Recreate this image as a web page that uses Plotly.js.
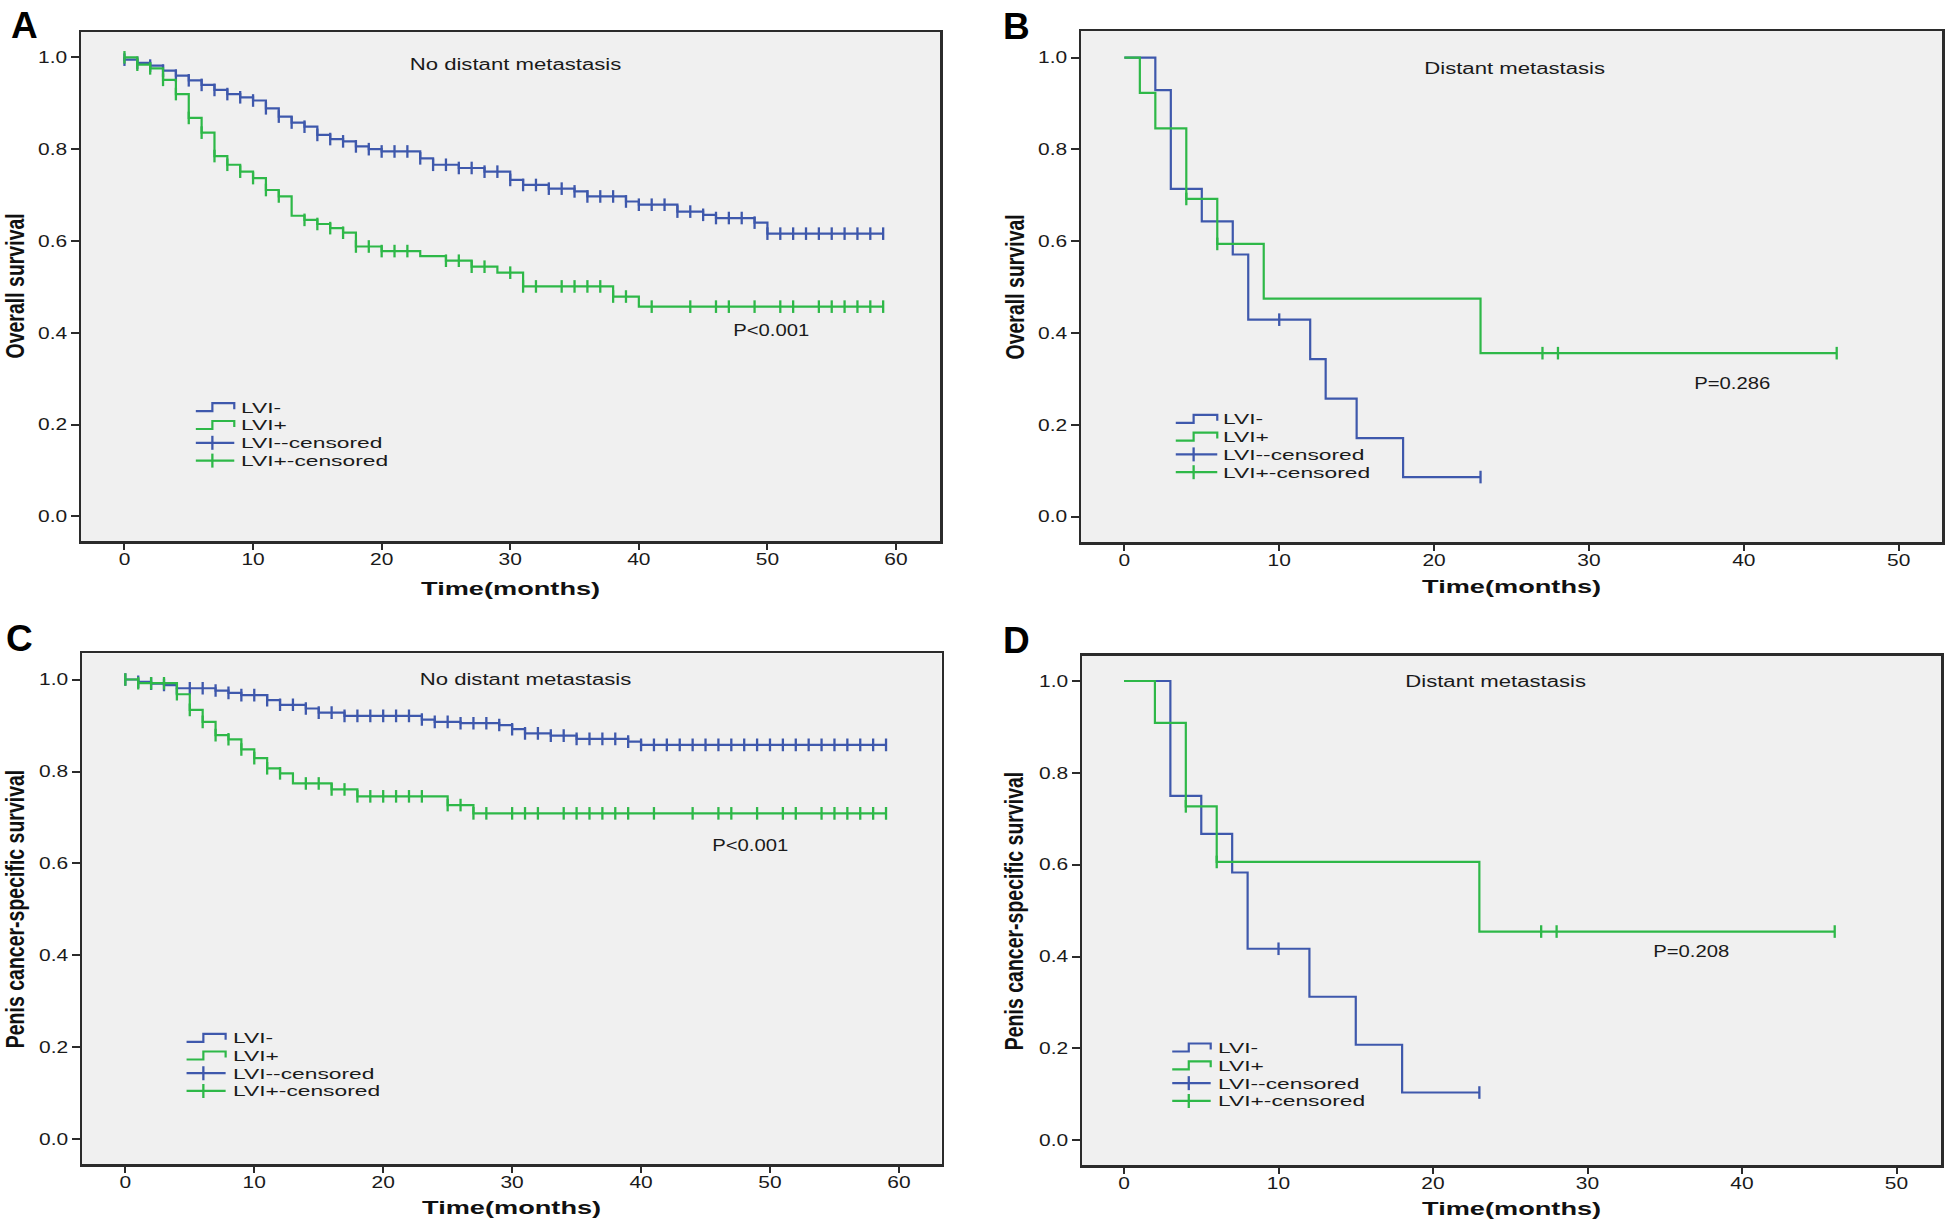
<!DOCTYPE html>
<html>
<head>
<meta charset="utf-8">
<script src="https://cdn.plot.ly/plotly-3.0.1.min.js"></script>
<style>
html,body{margin:0;padding:0;background:#ffffff;}
#chart{width:1946px;height:1221px;}
</style>
</head>
<body>
<div id="chart"></div>
<script>
// ================= DATA =================
const seriesNames = ['LVI-', 'LVI+', 'LVI--censored', 'LVI+-censored'];
const panelLetters = ['A', 'B', 'C', 'D'];
const panelTitles = ['No distant metastasis', 'Distant metastasis', 'No distant metastasis', 'Distant metastasis'];
const pValueLabels = ['P<0.001', 'P=0.286', 'P<0.001', 'P=0.208'];
const yAxisTitles = ['Overall survival', 'Overall survival', 'Penis cancer-specific survival', 'Penis cancer-specific survival'];
const xAxisTitle = 'Time(months)';
const xTicks60 = [0, 10, 20, 30, 40, 50, 60];
const xTicks50 = [0, 10, 20, 30, 40, 50];
const yTicks = [0.0, 0.2, 0.4, 0.6, 0.8, 1.0];

// Panel A - overall survival, no distant metastasis
const aNegEventTimes = [0,1,2,3,4,5,6,7,8,9,10,11,12,13,14,15,16,17,18,19,20,23,24,26,28,30,31,33,35,36,39,40,43,45,46,49,50];
const aNegSurvival   = [0.995,0.988,0.982,0.971,0.960,0.950,0.940,0.929,0.920,0.913,0.906,0.889,0.871,0.858,0.849,0.831,0.822,0.817,0.806,0.800,0.795,0.780,0.766,0.759,0.751,0.733,0.722,0.714,0.708,0.697,0.686,0.679,0.664,0.657,0.650,0.640,0.616];
const aNegCensored   = [0,1,2,3,4,5,6,7,8,9,10,11,12,13,14,15,16,17,18,19,20,21,22,23,24,25,26,27,28,29,30,31,32,33,34,35,36,37,38,39,40,41,42,43,44,45,46,47,48,49,50,51,52,53,54,55,56,57,58,59];
const aPosEventTimes = [1,2,3,4,5,6,7,8,9,10,11,12,13,14,15,16,17,18,20,23,25,27,29,31,38,40];
const aPosSurvival   = [0.984,0.976,0.951,0.920,0.868,0.836,0.785,0.766,0.751,0.737,0.711,0.697,0.655,0.646,0.637,0.628,0.618,0.588,0.578,0.567,0.557,0.544,0.531,0.501,0.479,0.457];
const aPosCensored   = [0,1,2,3,4,5,6,7,8,9,10,11,12,14,15,16,17,18,19,20,21,22,25,26,27,28,30,31,32,34,35,36,37,38,39,41,44,46,47,49,51,52,54,55,56,57,58,59];

// Panel B - overall survival, distant metastasis
const bNegEventTimes = [2,3,5,7,8,12,13,15,18];
const bNegSurvival   = [0.929,0.714,0.643,0.571,0.429,0.343,0.257,0.171,0.086];
const bNegCensored   = [10,23];
const bPosEventTimes = [1,2,4,6,9,23];
const bPosSurvival   = [0.923,0.846,0.692,0.594,0.475,0.356];
const bPosCensored   = [4,6,27,28,46];

// Panel C - penis cancer-specific survival, no distant metastasis
const cNegEventTimes = [1,2,3,4,7,8,9,11,12,14,15,17,23,24,26,29,30,31,33,35,39,40];
const cNegSurvival   = [0.995,0.991,0.988,0.981,0.976,0.971,0.966,0.955,0.945,0.937,0.928,0.921,0.913,0.908,0.905,0.901,0.892,0.883,0.878,0.871,0.865,0.858];
const cNegCensored   = [0,1,2,3,4,5,6,7,8,9,10,11,12,13,14,15,16,17,18,19,20,21,22,23,24,25,26,27,28,29,30,31,32,33,34,35,36,37,38,39,40,41,42,43,44,45,46,47,48,49,50,51,52,53,54,55,56,57,58,59];
const cPosEventTimes = [1,4,5,6,7,8,9,10,11,12,13,16,18,25,27];
const cPosSurvival   = [0.992,0.968,0.934,0.908,0.879,0.870,0.848,0.829,0.807,0.796,0.774,0.761,0.746,0.727,0.709];
const cPosCensored   = [0,1,2,3,4,5,6,7,8,9,10,11,12,14,15,16,17,18,19,20,21,22,23,25,26,27,28,30,31,32,34,35,36,37,38,39,41,44,46,47,49,51,52,54,55,56,57,58,59];

// Panel D - penis cancer-specific survival, distant metastasis
const dNegEventTimes = [3,5,7,8,12,15,18];
const dNegSurvival   = [0.750,0.667,0.583,0.417,0.3125,0.208,0.104];
const dNegCensored   = [10,23];
const dPosEventTimes = [2,4,6,23];
const dPosSurvival   = [0.909,0.727,0.606,0.4545];
const dPosCensored   = [4,6,27,28,46];

// ================= STYLE / LAYOUT CONSTANTS =================
const W = 1946, H = 1221;
const BLUE = '#3E58AC', GREEN = '#2EB848';
const FRAME = '#2b2b2b';
const ARIAL = 'Liberation Sans, Arial, sans-serif';
const TEXT_COLOR = '#1a1a1a';
// the reference typography is horizontally widened; these factors reproduce it
const TICK_SX = 1.27, TITLE_SX = 1.42, P_SX = 1.3, LEGEND_SX = 1.5, XTITLE_SX = 1.43, YTITLE_SY = 1.3;

// pixel boxes of the four plot frames [left, right, top, bottom]
const boxes = [
  [81, 940, 32, 541],
  [1081, 1942, 31, 542],
  [82, 941.6, 653.3, 1164.2],
  [1082, 1941, 655.5, 1165]
];
const xRanges = [[-3.38, 63.42], [-2.8, 52.8], [-3.36, 63.31], [-2.72, 52.88]];
const yRanges = [[-0.0535, 1.0552], [-0.0555, 1.058], [-0.0538, 1.057], [-0.0538, 1.0555]];
const xTickSets = [xTicks60, xTicks50, xTicks60, xTicks50];

// label placements (data coordinates of each panel)
const titlePos = [[30.4, 0.985], [25.2, 0.977], [31.0, 0.999], [24.1, 0.998]];
const pPos = [[50.3, 0.406], [39.3, 0.290], [48.5, 0.640], [36.7, 0.411]];
// legend: [iconStart, iconEnd, textStart, firstRowY, rowStep]
const legendPos = [
  [5.55, 8.54, 9.0, 0.238, 0.0388],
  [3.32, 6.0, 6.3, 0.213, 0.0388],
  [4.75, 7.78, 8.25, 0.221, 0.0385],
  [3.12, 5.61, 6.0, 0.202, 0.0388]
];
// pixel anchors
const letterPos = [[9, 3], [1001, 4], [4, 616], [1001, 618]];
const yTitleX = [14, 1014, 14.5, 1014];
const xTitleY = [588, 586, 1207, 1208];

// ================= BUILD =================
const px = v => v / W;
const py = v => 1 - v / H;

const panelData = [
  [[aNegEventTimes, aNegSurvival, aNegCensored], [aPosEventTimes, aPosSurvival, aPosCensored]],
  [[bNegEventTimes, bNegSurvival, bNegCensored], [bPosEventTimes, bPosSurvival, bPosCensored]],
  [[cNegEventTimes, cNegSurvival, cNegCensored], [cPosEventTimes, cPosSurvival, cPosCensored]],
  [[dNegEventTimes, dNegSurvival, dNegCensored], [dPosEventTimes, dPosSurvival, dPosCensored]]
];

function survAt(times, surv, t) {
  let v = 1;
  for (let i = 0; i < times.length; i++) if (times[i] <= t) v = surv[i];
  return v;
}
function colorOf(k) { return k === 0 ? BLUE : GREEN; }

const traces = [];
const shapes = [];
const annotations = [];
const stretchSpecs = [];
function addAnn(a, st) { annotations.push(a); stretchSpecs.push(st || null); }

const layout = {
  width: W, height: H,
  margin: {l: 0, r: 0, t: 0, b: 0, pad: 0},
  paper_bgcolor: '#ffffff',
  plot_bgcolor: '#f0f0f0',
  showlegend: false,
  hovermode: false
};

panelData.forEach((groups, p) => {
  const sfx = p === 0 ? '' : String(p + 1);
  const xa = 'x' + sfx, ya = 'y' + sfx;
  const b = boxes[p];
  const axisCommon = {
    showgrid: false, zeroline: false, showline: true, mirror: true,
    linecolor: FRAME, linewidth: 2.5,
    ticks: 'outside', tickwidth: 2, tickcolor: FRAME,
    tickfont: {family: ARIAL, size: 16.5, color: TEXT_COLOR},
    fixedrange: true
  };
  layout['xaxis' + sfx] = Object.assign({}, axisCommon, {
    domain: [px(b[0]), px(b[1])], range: xRanges[p], anchor: ya, ticklen: 6, ticklabelstandoff: -4,
    tickmode: 'array', tickvals: xTickSets[p], ticktext: xTickSets[p].map(String)
  });
  layout['yaxis' + sfx] = Object.assign({}, axisCommon, {
    domain: [py(b[3]), py(b[2])], range: yRanges[p], anchor: xa, ticklen: 8,
    tickmode: 'array', tickvals: yTicks, ticktext: yTicks.map(v => v.toFixed(1))
  });

  groups.forEach((g, k) => {
    const [times, surv, cens] = g;
    const tEnd = Math.max(times[times.length - 1], cens[cens.length - 1]);
    const xs = [0].concat(times, [tEnd]);
    const ys = [1].concat(surv, [surv[surv.length - 1]]);
    traces.push({
      type: 'scatter', mode: 'lines', x: xs, y: ys, xaxis: xa, yaxis: ya,
      line: {shape: 'hv', color: colorOf(k), width: 2.2},
      name: seriesNames[k], hoverinfo: 'skip'
    });
    traces.push({
      type: 'scatter', mode: 'markers', x: cens, y: cens.map(t => survAt(times, surv, t)),
      xaxis: xa, yaxis: ya,
      marker: {symbol: 'line-ns-open', size: 9, color: colorOf(k), line: {color: colorOf(k), width: 2.3}},
      name: seriesNames[k + 2], hoverinfo: 'skip'
    });
  });

  // legend (drawn manually: step icons for curves, tick icons for censored)
  const [i0, i1, tx, r0, rs] = legendPos[p];
  const yu = 1 / 459; // one pixel in y units
  const xmid = i0 + (i1 - i0) * 0.43;
  [0, 1].forEach(k => {
    const ry = r0 - k * rs;
    shapes.push({
      type: 'path', xref: xa, yref: ya,
      path: `M${i0},${ry - 4 * yu} H${xmid} V${ry + 4 * yu} H${i1} V${ry - 2 * yu}`,
      line: {color: colorOf(k), width: 2.2}
    });
  });
  [0, 1].forEach(k => {
    const ry = r0 - (k + 2) * rs;
    shapes.push({type: 'line', xref: xa, yref: ya, x0: i0, x1: i1, y0: ry, y1: ry,
      line: {color: colorOf(k), width: 2.2}});
    shapes.push({type: 'line', xref: xa, yref: ya, x0: xmid, x1: xmid, y0: ry - 7 * yu, y1: ry + 7 * yu,
      line: {color: colorOf(k), width: 2.3}});
  });
  seriesNames.forEach((nm, k) => {
    addAnn({xref: xa, yref: ya, x: tx, y: r0 - k * rs, text: nm, showarrow: false, borderpad: 0,
      xanchor: 'left', yanchor: 'middle', font: {family: ARIAL, size: 15.2, color: TEXT_COLOR}},
      {sx: LEGEND_SX, sy: 1, mode: 'left'});
  });

  // in-plot title and p value
  addAnn({xref: xa, yref: ya, x: titlePos[p][0], y: titlePos[p][1], text: panelTitles[p],
    showarrow: false, xanchor: 'center', yanchor: 'middle', font: {family: ARIAL, size: 15.6, color: TEXT_COLOR}},
    {sx: TITLE_SX, sy: 1, mode: 'center'});
  addAnn({xref: xa, yref: ya, x: pPos[p][0], y: pPos[p][1], text: pValueLabels[p],
    showarrow: false, xanchor: 'center', yanchor: 'middle', font: {family: ARIAL, size: 15.6, color: TEXT_COLOR}},
    {sx: P_SX, sy: 1, mode: 'center'});

  // axis titles
  addAnn({xref: 'paper', yref: 'paper', x: px((b[0] + b[1]) / 2), y: py(xTitleY[p]),
    text: '<b>' + xAxisTitle + '</b>', showarrow: false, xanchor: 'center', yanchor: 'middle', borderpad: 0,
    font: {family: ARIAL, size: 19, color: '#111'}},
    {sx: XTITLE_SX, sy: 1, mode: 'center'});
  addAnn({xref: 'paper', yref: 'paper', x: px(yTitleX[p]), y: py((b[2] + b[3]) / 2),
    text: '<b>' + yAxisTitles[p] + '</b>', showarrow: false, textangle: -90, xanchor: 'center', yanchor: 'middle',
    font: {family: ARIAL, size: 19.5, color: '#111'}},
    {sx: 1, sy: YTITLE_SY, mode: 'center'});

  // panel letter
  addAnn({xref: 'paper', yref: 'paper', x: px(letterPos[p][0]), y: py(letterPos[p][1]),
    text: '<b>' + panelLetters[p] + '</b>', showarrow: false, xanchor: 'left', yanchor: 'top',
    font: {family: ARIAL, size: 37, color: '#000'}}, null);
});

layout.shapes = shapes;
layout.annotations = annotations;

function stretchEl(el, sx, sy, mode) {
  const bb = el.getBBox();
  const ox = mode === 'left' ? bb.x : (mode === 'right' ? bb.x + bb.width : bb.x + bb.width / 2);
  const oy = bb.y + bb.height / 2;
  const prev = el.getAttribute('transform') || '';
  el.setAttribute('transform', `${prev} translate(${ox},${oy}) scale(${sx},${sy}) translate(${-ox},${-oy})`);
}

Plotly.newPlot('chart', traces, layout, {staticPlot: true, displayModeBar: false}).then(gd => {
  gd.querySelectorAll('g.annotation').forEach(g => {
    const st = stretchSpecs[+g.getAttribute('data-index')];
    if (!st) return;
    const t = g.querySelector('text.annotation-text');
    if (t) stretchEl(t, st.sx, st.sy, st.mode);
  });
  gd.querySelectorAll('g.xaxislayer-above text').forEach(t => stretchEl(t, TICK_SX, 1, 'center'));
  gd.querySelectorAll('g.yaxislayer-above text').forEach(t => stretchEl(t, TICK_SX, 1, 'right'));
});
</script>
</body>
</html>
